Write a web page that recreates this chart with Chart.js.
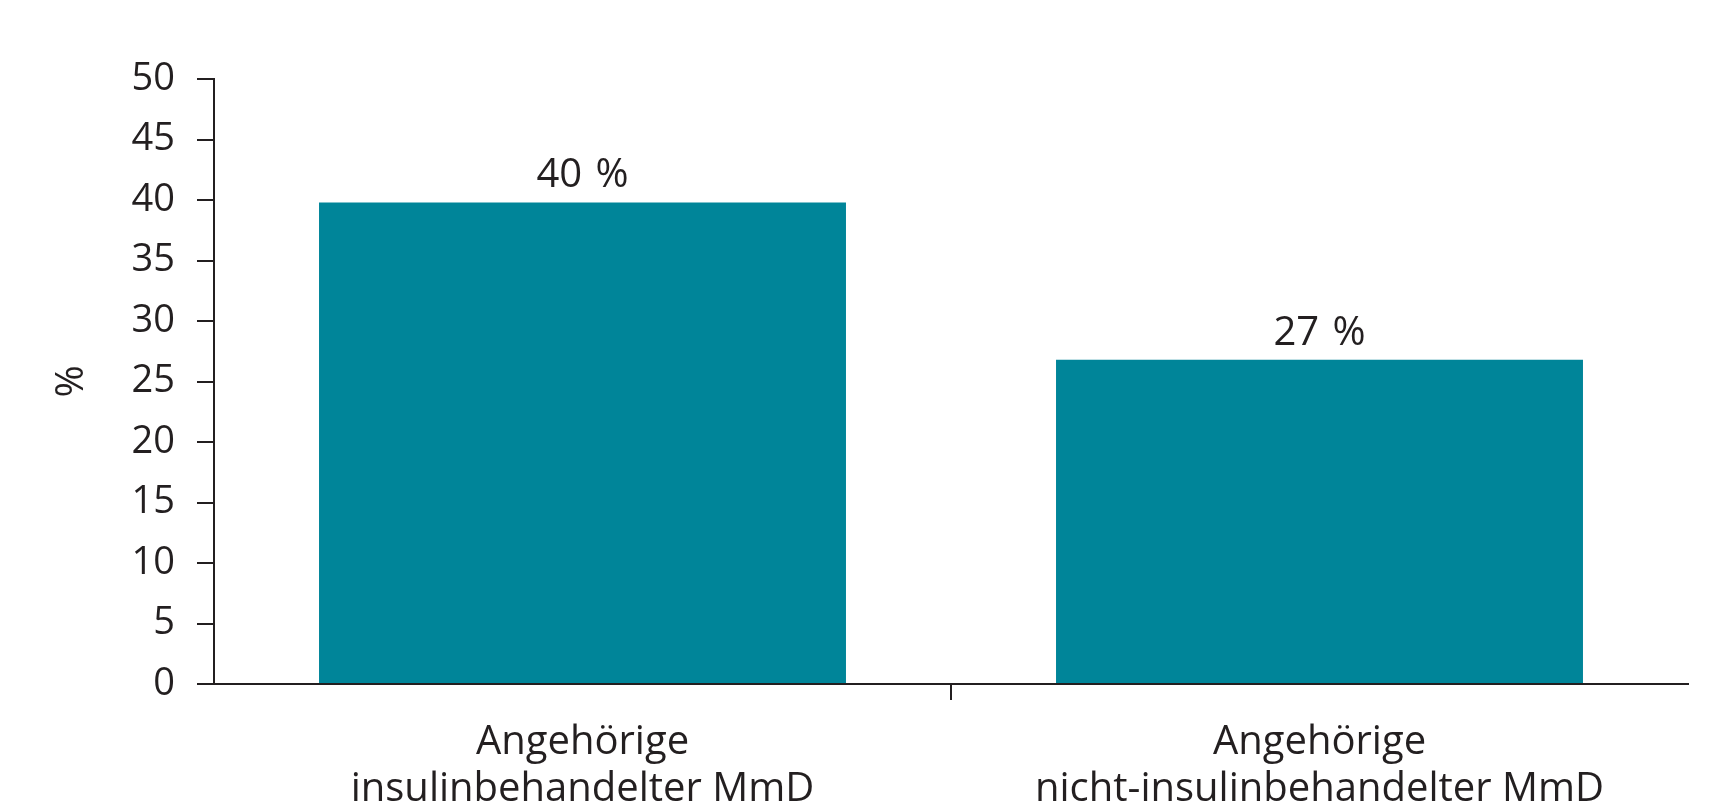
<!DOCTYPE html>
<html>
<head>
<meta charset="utf-8">
<script src="https://cdn.jsdelivr.net/npm/chart.js@4.4.1/dist/chart.umd.min.js"></script>
<style>
  html, body { margin: 0; padding: 0; background: #fff; }
  #wrap { width: 1721px; height: 806px; }
</style>
</head>
<body>
<div id="wrap"><canvas id="c"></canvas></div>
<script>
'use strict';

// data
const categories = [
  ['Angehörige', 'insulinbehandelter MmD'],
  ['Angehörige', 'nicht-insulinbehandelter MmD'],
];
const shares = [39.8, 26.8];
const shareLabels = ['40\u2009\u2009%', '27\u2009\u2009%'];
const yTicks = [0, 5, 10, 15, 20, 25, 30, 35, 40, 45, 50];

const ink = '#231f20';
const teal = '#008599';
const font = '"Open Sans", "Noto Sans", sans-serif';

// value labels above bars
const barLabels = {
  id: 'barLabels',
  afterDatasetsDraw(chart) {
    const { ctx } = chart;
    const meta = chart.getDatasetMeta(0);
    ctx.save();
    ctx.fillStyle = ink;
    ctx.font = `40px ${font}`;
    ctx.textAlign = 'center';
    ctx.textBaseline = 'alphabetic';
    meta.data.forEach((bar, i) => ctx.fillText(shareLabels[i], bar.x, bar.y - 15));
    ctx.restore();
  },
};

new Chart(document.getElementById('c'), {
  type: 'bar',
  data: {
    labels: categories,
    datasets: [{ data: shares, backgroundColor: teal, barPercentage: 0.715, categoryPercentage: 1 }],
  },
  options: {
    responsive: true, maintainAspectRatio: false, animation: false,
    devicePixelRatio: 1,
    layout: { padding: { top: 79, right: 33, bottom: 0, left: 0 } },
    plugins: { legend: { display: false }, tooltip: { enabled: false } },
    scales: {
      x: {
        afterFit: (s) => { s.height = 122; },
        border: { display: true, color: ink, width: 2 },
        grid: {
          offset: true, drawOnChartArea: false, drawTicks: true, tickLength: 16, lineWidth: 2,
          color: (c) => (c.index === 1 ? ink : 'rgba(0,0,0,0)'),
        },
        ticks: { color: ink, padding: 19, font: { family: font, size: 40, lineHeight: 1.18 }, maxRotation: 0 },
      },
      y: {
        min: 0, max: 50,
        afterFit: (s) => { s.width = 214; },
        afterBuildTicks: (s) => { s.ticks = yTicks.map((v) => ({ value: v })); },
        border: { display: true, color: ink, width: 2 },
        grid: { drawOnChartArea: false, drawTicks: true, tickLength: 17, lineWidth: 2, color: ink },
        ticks: { color: ink, padding: 22, font: { family: font, size: 38 } },
        title: { display: true, text: '%', color: ink, font: { family: font, size: 39 }, padding: { top: 48, bottom: 0 } },
      },
    },
  },
  plugins: [barLabels],
});
</script>
</body>
</html>
